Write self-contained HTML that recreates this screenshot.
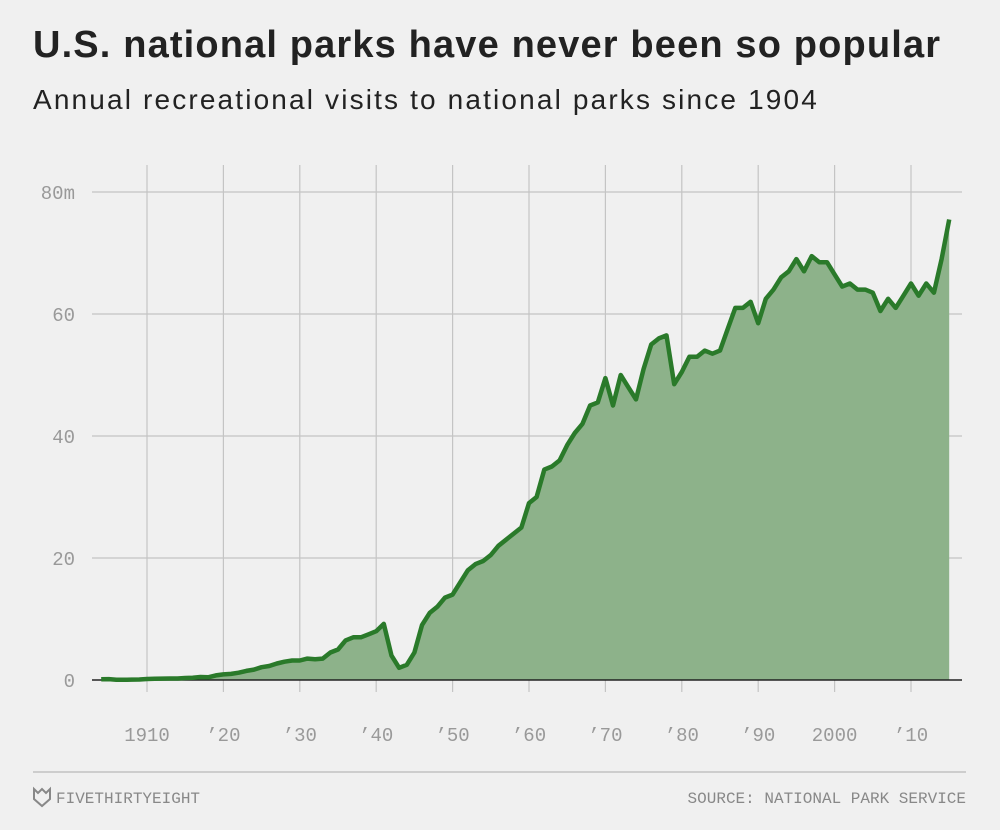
<!DOCTYPE html>
<html><head><meta charset="utf-8"><style>
body{margin:0;background:#f0f0f0;width:1000px;height:830px;overflow:hidden;font-family:"Liberation Sans",sans-serif}
#t{position:absolute;left:33px;top:24px;font-size:38px;font-weight:bold;color:#222;letter-spacing:1.15px;white-space:nowrap}
#s{position:absolute;left:33px;top:84px;font-size:28px;color:#222;letter-spacing:2.15px;white-space:nowrap}
</style></head><body>
<div id="t">U.S. national parks have never been so popular</div>
<div id="s">Annual recreational visits to national parks since 1904</div>
<svg id="c" width="1000" height="830" style="position:absolute;left:0;top:0"></svg>
<script>
const startYear=1904;
const visits=[0.12,0.14,0.03,0.03,0.07,0.09,0.17,0.2,0.23,0.25,0.24,0.33,0.36,0.49,0.45,0.76,0.92,1.0,1.2,1.5,1.7,2.1,2.3,2.7,3.0,3.2,3.2,3.5,3.4,3.5,4.5,5.0,6.5,7.0,7.0,7.5,8.0,9.2,4.0,2.0,2.5,4.5,9.0,11.0,12.0,13.5,14.0,16.0,18.0,19.0,19.5,20.5,22.0,23.0,24.0,25.0,29.0,30.0,34.5,35.0,36.0,38.5,40.5,42.0,45.0,45.5,49.5,45.0,50.0,48.0,46.0,51.0,55.0,56.0,56.5,48.5,50.5,53.0,53.0,54.0,53.5,54.0,57.5,61.0,61.0,62.0,58.5,62.5,64.0,66.0,67.0,69.0,67.0,69.5,68.5,68.5,66.5,64.5,65.0,64.0,64.0,63.5,60.5,62.5,61.0,63.0,65.0,63.0,65.0,63.5,69.0,75.5];
const yTicks=[0,20,40,60,80];
const yTickLabels=["0","20","40","60","80m"];
const xTicks=[1910,1920,1930,1940,1950,1960,1970,1980,1990,2000,2010];
const xTickLabels=["1910","’20","’30","’40","’50","’60","’70","’80","’90","2000","’10"];
const svg=document.getElementById('c');const NS="http://www.w3.org/2000/svg";
const X=y=>147+(y-1910)*7.64, Y=v=>680-v*6.1;
function mk(t,a,txt){const e=document.createElementNS(NS,t);for(const k in a)e.setAttribute(k,a[k]);if(txt!=null)e.textContent=txt;svg.appendChild(e);return e;}
yTicks.forEach((v,i)=>{
 if(v>0){const g=mk('line',{x1:92,x2:962,y1:Y(v),y2:Y(v),stroke:'#c4c4c4','stroke-width':1.2});
 
 }
 const t=mk('text',{x:75,y:Y(v)+7,'text-anchor':'end','font-size':19,fill:'#999','font-family':'Liberation Mono, monospace'},yTickLabels[i]);
 
 
});
xTicks.forEach((yr,i)=>{
 const g=mk('line',{x1:X(yr),x2:X(yr),y1:165,y2:692,stroke:'#c4c4c4','stroke-width':1.2});
 
 
 const t=mk('text',{x:X(yr),y:741,'text-anchor':'middle','font-size':19,fill:'#999','font-family':'Liberation Mono, monospace'},xTickLabels[i]);
 
 
});
let pts=visits.map((v,i)=>X(startYear+i).toFixed(1)+','+Y(v).toFixed(1));
const last=startYear+visits.length-1;
const area=mk('polygon',{points:X(startYear)+','+Y(0)+' '+pts.join(' ')+' '+X(last)+','+Y(0),fill:'#8db28a'});


const base=mk('line',{x1:92,x2:962,y1:680,y2:680,stroke:'#222','stroke-width':1.5});


const line=mk('polyline',{points:pts.join(' '),fill:'none',stroke:'#2a7a2a','stroke-width':4.5,'stroke-linejoin':'round'});


const fl=mk('line',{x1:33,x2:966,y1:772,y2:772,stroke:'#aaa','stroke-width':1});


const l=mk('text',{x:56,y:803,'font-size':16,fill:'#888','font-family':'Liberation Mono, monospace'},'FIVETHIRTYEIGHT');


const ic=mk('path',{d:'M34 789 L38 793 L42 789 L46 793 L50 789 L50 799 L42 806 L34 799 Z',fill:'none',stroke:'#888','stroke-width':2});


const r=mk('text',{x:966,y:803,'text-anchor':'end','font-size':16,fill:'#888','font-family':'Liberation Mono, monospace'},'SOURCE: NATIONAL PARK SERVICE');


</script>
</body></html>
